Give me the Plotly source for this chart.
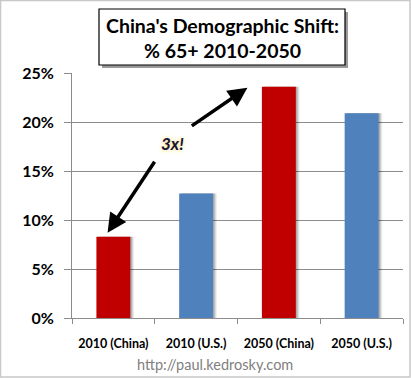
import plotly.graph_objects as go

categories = ["2010 (China)", "2010 (U.S.)", "2050 (China)", "2050 (U.S.)"]
pct_65_plus = [8.3, 12.7, 23.6, 20.9]
bar_colors = ["#C00000", "#4F81BD", "#C00000", "#4F81BD"]
y_ticks = [0, 5, 10, 15, 20, 25]
y_tick_labels = ["0%", "5%", "10%", "15%", "20%", "25%"]
title_lines = ["China's Demographic Shift:", "% 65+ 2010-2050"]
source_text = "http://paul.kedrosky.com"
callout_text = "3x!"

W, H = 411, 378
L, R, T, B = 72, 8, 73, 60
pw, ph = W - L - R, H - T - B

def px(x):
    return (x - L) / pw

def py(y):
    return (H - B - y) / ph

BAR_W = 0.41
fig = go.Figure()
# soft shadow behind bars
for k, (dx, a) in enumerate([(0.045, 0.08), (0.03, 0.12), (0.018, 0.16)]):
    fig.add_trace(go.Bar(
        x=categories, y=pct_65_plus, width=BAR_W, offset=-BAR_W / 2 + dx,
        marker=dict(color=f"rgba(0,0,0,{a})", line=dict(width=0)),
        hoverinfo="skip",
    ))
fig.add_trace(go.Bar(
    x=categories, y=pct_65_plus, width=BAR_W, offset=-BAR_W / 2,
    marker=dict(color=bar_colors, line=dict(width=0)),
    hoverinfo="skip",
))

grid = "#8C8C8C"
fig.update_layout(
    width=W, height=H,
    margin=dict(l=L, r=R, t=T, b=B),
    paper_bgcolor="white", plot_bgcolor="white",
    showlegend=False,
    barmode="overlay",
    font=dict(family="Lato, sans-serif", color="black"),
)
fig.update_xaxes(
    range=[-0.5, 3.5], tickson="boundaries",
    showgrid=False, showline=True, linecolor=grid, linewidth=1,
    ticks="outside", ticklen=5, tickcolor=grid,
    tickfont=dict(size=12.5, family="Lato, sans-serif", weight="bold", color="black"),
    ticklabelstandoff=14,
)
fig.update_yaxes(
    range=[0, 25], tickmode="array", tickvals=y_ticks, ticktext=y_tick_labels,
    showgrid=True, gridcolor=grid, gridwidth=1,
    showline=True, linecolor=grid, linewidth=1,
    ticks="outside", ticklen=7, tickcolor=grid,
    tickfont=dict(size=16, family="Lato, sans-serif", weight="bold", color="black"),
    ticklabelstandoff=7, zeroline=False,
)

shapes = [
    # outer border
    dict(type="rect", xref="paper", yref="paper",
         x0=px(0.5), x1=px(W - 1), y0=py(H - 1), y1=py(0.5),
         line=dict(color="#C8C8C8", width=1.5), fillcolor="rgba(0,0,0,0)"),
    # title shadow
    dict(type="rect", xref="paper", yref="paper",
         x0=px(102), x1=px(348), y0=py(68), y1=py(12),
         line=dict(width=0), fillcolor="#9A9A9A"),
    # title box
    dict(type="rect", xref="paper", yref="paper",
         x0=px(99), x1=px(345), y0=py(65), y1=py(9),
         line=dict(color="black", width=1.2), fillcolor="white"),
]
fig.update_layout(shapes=shapes)

fig.add_annotation(
    xref="paper", yref="paper", x=px(222), y=py(38),
    xanchor="center", yanchor="middle",
    text="<br>".join(title_lines), showarrow=False,
    font=dict(size=19.5, family="Lato, sans-serif", weight="bold", color="black"),
    align="center",
)
fig.add_annotation(
    xref="paper", yref="paper", x=px(215), y=py(364),
    xanchor="center", yanchor="middle",
    text=source_text, showarrow=False,
    font=dict(size=14.5, family="Lato, sans-serif", color="#808080"),
)
# arrows
arrow_style = dict(showarrow=True, arrowhead=2, arrowsize=1.1, arrowwidth=3.5,
                   arrowcolor="black", text="", axref="x", ayref="y", xref="x", yref="y")
fig.add_annotation(x=-0.07, y=8.7, ax=0.51, ay=16.1, **arrow_style)
fig.add_annotation(x=1.62, y=23.5, ax=0.93, ay=19.5, **arrow_style)
fig.add_annotation(
    xref="x", yref="y", x=0.72, y=17.8, text="<i>" + callout_text + "</i>", showarrow=False,
    font=dict(size=17, family="Lato, sans-serif", weight="bold", color="#14143C",
              shadow="0px 0px 4px #FFD84D"),
)

fig.write_html("out.html", config={"displayModeBar": False},
               post_script="document.body.style.margin='0';")
